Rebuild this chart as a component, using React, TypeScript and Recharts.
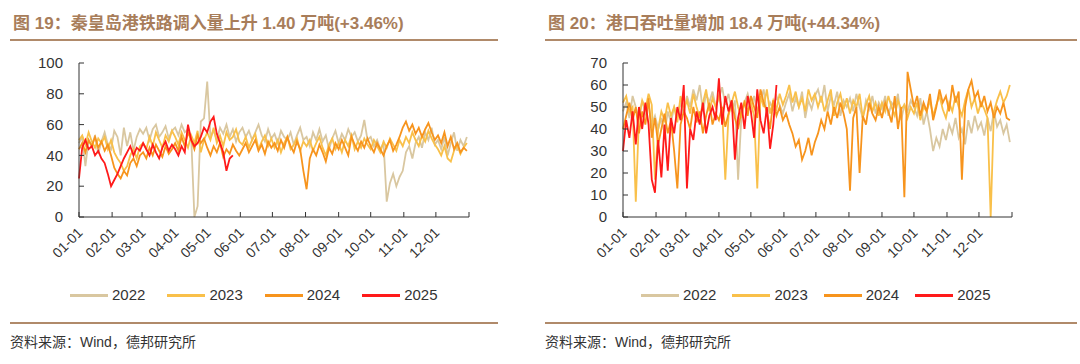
import React from "react";
import { LineChart, Line, XAxis, YAxis } from "recharts";

// ---------- data ----------
const MONTH_TICKS = [0, 31, 59, 90, 120, 151, 181, 212, 243, 273, 304, 334, 365];
const MONTH_LABELS = ["01-01", "02-01", "03-01", "04-01", "05-01", "06-01", "07-01", "08-01", "09-01", "10-01", "11-01", "12-01", ""];
const STEP_DAYS = 3;
const YEARS = ["2022", "2023", "2024", "2025"];
const COLORS = ["#d9c7a0", "#f9c04a", "#f7941d", "#ff1a1a"];

// 秦皇岛港铁路调入量 (values every 3 days)
const QHD_2022 = [
  48, 52, 33, 50, 46, 53, 41, 49, 55, 47, 44,
  56, 52, 40, 58, 46, 55, 43, 52, 57,
  54, 58, 50, 57, 60, 52, 55, 59, 51, 56,
  58, 53, 60, 55, 57, 52, 0, 7, 62, 64,
  88, 52, 56, 50, 58, 54, 60, 52, 57, 49, 55,
  58, 52, 56, 50, 55, 60, 53, 49, 57, 51,
  54, 48, 56, 52, 50, 55, 47, 53, 58, 50,
  52, 46, 55, 50, 57, 49, 53, 44, 51, 56,
  48, 54, 50, 57, 52, 55, 49, 53, 63, 50,
  52, 46, 50, 44, 48, 10, 22, 28, 20, 26, 30,
  42, 46, 38, 48, 52, 45, 55, 50, 58, 47,
  50, 44, 52, 40, 48, 55, 43, 50, 46, 52,
];
const QHD_2023 = [
  50, 53, 47, 55, 49, 45, 51, 48, 52, 44, 50,
  42, 38, 35, 30, 33, 40, 44, 38, 46,
  48, 44, 52, 46, 55, 50, 45, 53, 49, 56,
  52, 47, 55, 50, 45, 53, 48, 56, 42, 50,
  55, 50, 58, 48, 53, 46, 55, 50, 52, 57, 49,
  47, 52, 45, 50, 54, 44, 49, 53, 46, 51,
  45, 50, 42, 48, 52, 44, 47, 51, 43, 49,
  46, 50, 43, 48, 52, 45, 40, 47, 51, 44,
  48, 42, 50, 46, 53, 44, 49, 45, 51, 47,
  44, 50, 46, 42, 49, 45, 51, 47, 43, 50, 46,
  52, 48, 55, 50, 46, 53, 49, 56, 51, 47,
  44, 40, 46, 38, 36, 43, 47, 41, 45, 48,
];
const QHD_2024 = [
  44, 48, 42, 50, 46, 52, 45, 49, 43, 47, 40,
  32, 28, 25, 30, 27, 35, 38, 33, 40,
  42, 38, 45, 40, 47, 43, 39, 46, 41, 44,
  48, 43, 52, 46, 55, 50, 44, 53, 48, 51,
  45, 40, 46, 42, 48, 39, 44, 41, 47, 43, 40,
  44, 48, 42, 46, 50, 43, 47, 41, 49, 45,
  48, 43, 50, 45, 52, 46, 42, 49, 44, 30,
  18, 38, 44, 40, 47, 42, 36, 45, 41, 48,
  44, 50, 45, 40, 52, 47, 43, 49, 45, 51,
  46, 42, 48, 44, 40, 46, 50, 43, 47, 52, 58,
  62, 56, 60, 54, 58, 52, 57, 61, 55, 50,
  53, 48, 55, 46, 52, 44, 48, 42, 45, 43,
];
const QHD_2025 = [
  25, 45, 50, 44, 46, 40, 43, 38, 35, 28,
  20, 24, 28, 33, 38, 42, 46, 40, 45, 43,
  48, 44, 40, 47, 42, 38, 45, 49, 43, 47,
  44, 40, 46, 42, 60, 50, 46, 48, 52, 58,
  55, 62, 65, 54, 48, 42, 30, 38, 40,
];

// 港口吞吐量 (values every 3 days)
const PORT_2022 = [
  48, 52, 45, 55, 50, 44, 53, 47, 51, 42, 46,
  40, 45, 38, 48, 43, 50, 46, 52, 47,
  55, 50, 58, 53, 60, 48, 56, 52, 57, 50,
  54, 59, 51, 56, 48, 53, 17, 45, 52, 56,
  50, 55, 48, 53, 58, 46, 52, 49, 55, 51, 47,
  52, 56, 48, 54, 50, 57, 45, 53, 49, 55,
  58, 52, 60, 48, 55, 51, 57, 46, 53, 50,
  54, 48, 56, 50, 45, 53, 49, 55, 47, 52,
  49, 55, 46, 52, 50, 56, 44, 51, 48, 53,
  50, 46, 54, 42, 48, 40, 30, 36, 32, 40, 35,
  42, 38, 45, 36, 40, 33, 44, 38, 46, 40,
  43, 37, 45, 39, 48, 41, 44, 38, 42, 34,
];
const PORT_2023 = [
  52, 55, 48, 50, 7, 45, 53, 49, 56, 51, 17,
  40, 48, 44, 52, 46, 50, 43, 55, 49,
  53, 47, 56, 50, 45, 52, 58, 48, 54, 50,
  55, 49, 17, 46, 52, 57, 50, 45, 53, 48,
  52, 46, 13, 55, 50, 58, 47, 53, 49, 56, 51,
  55, 60, 52, 57, 50, 54, 48, 58, 53, 56,
  50, 55, 48, 53, 58, 46, 52, 56, 49, 54,
  47, 53, 50, 56, 45, 51, 55, 48, 52, 46,
  52, 48, 55, 50, 46, 53, 49, 51, 45, 50,
  47, 52, 44, 50, 48, 53, 46, 51, 55, 49, 45,
  52, 48, 55, 50, 46, 53, 58, 50, 54, 47,
  52, 49, 45, 0, 48, 53, 57, 52, 55, 60,
];
const PORT_2024 = [
  40, 46, 52, 44, 50, 38, 48, 42, 54, 36, 45,
  33, 40, 47, 38, 44, 30, 13, 42, 48,
  45, 40, 50, 43, 48, 38, 46, 52, 42, 47,
  44, 50, 41, 47, 53, 45, 40, 48, 52, 46,
  55, 50, 45, 58, 52, 48, 40, 53, 46, 50, 44,
  47, 42, 38, 32, 35, 26, 30, 36, 28, 34,
  38, 44, 40, 48, 42, 50, 45, 52, 47, 40,
  12, 45, 50, 20, 46, 42, 52, 47, 44, 50,
  45, 52, 48, 43, 55, 40, 50, 9, 66, 58,
  50, 55, 46, 52, 48, 56, 44, 50, 58, 52, 55,
  48, 60, 52, 57, 17, 50, 58, 62, 54, 57,
  50, 55, 48, 52, 45, 50, 47, 52, 45, 44,
];
const PORT_2025 = [
  30, 44, 36, 48, 33, 50, 40, 52, 42, 17,
  11, 35, 18, 42, 21, 45, 38, 50, 44, 60,
  13, 40, 35, 48, 42, 52, 38, 46, 50, 44,
  63, 42, 55, 48, 53, 26, 45, 52, 40, 55,
  48, 36, 58, 44, 38, 50, 31, 42, 60,
];

const QHD_TICKS = [0, 20, 40, 60, 80, 100];
const PORT_TICKS = [0, 10, 20, 30, 40, 50, 60, 70];

// ---------- helpers ----------
function buildRows(series: number[][]) {
  const n = Math.max(...series.map((s) => s.length));
  const rows: any[] = [];
  for (let i = 0; i < n; i++) {
    const row: any = { day: i * STEP_DAYS };
    YEARS.forEach((y, k) => {
      if (i < series[k].length) row["y" + y] = series[k][i];
    });
    rows.push(row);
  }
  return rows;
}

const QHD_ROWS = buildRows([QHD_2022, QHD_2023, QHD_2024, QHD_2025]);
const PORT_ROWS = buildRows([PORT_2022, PORT_2023, PORT_2024, PORT_2025]);

const FONT = "'Liberation Sans', Arial, 'Noto Sans CJK SC', sans-serif";
const AXIS = "#333333";
const TITLE_COLOR = "#a87d5a";
const RULE_COLOR = "#b08a6a";

const XTick = (props: any) => {
  const { x, y, payload } = props;
  const idx = MONTH_TICKS.indexOf(payload.value);
  const label = idx >= 0 ? MONTH_LABELS[idx] : "";
  const ax = x + 1;
  const ay = y + 13;
  return (
    <g>
      <line x1={x} x2={x} y1={y} y2={y - 5} stroke={AXIS} strokeWidth={1} />
      <text
        x={ax}
        y={ay}
        transform={`rotate(-45 ${ax} ${ay})`}
        textAnchor="end"
        dy="0.35em"
        fontSize={14}
        fontFamily={FONT}
        fill="#333"
      >
        {label}
      </text>
    </g>
  );
};

const YTick = (props: any) => {
  const { x, y, payload } = props;
  return (
    <g>
      <line x1={x} x2={x + 5} y1={y} y2={y} stroke={AXIS} strokeWidth={1} />
      <text x={x - 16} y={y} dy="0.35em" textAnchor="end" fontSize={15} fontFamily={FONT} fill="#333">
        {payload.value}
      </text>
    </g>
  );
};

type PanelProps = {
  ruleWidth: number;
  title: string;
  rows: any[];
  yMax: number;
  yTicks: number[];
  yAxisWidth: number;
  marginRight: number;
  legendLeft: number;
  legendGap: number;
};

const Panel = (p: PanelProps) => (
  <div style={{ position: "absolute", left: 0, top: 0, width: 540, height: 364 }}>
    <div
      style={{
        position: "absolute",
        left: 3,
        top: 13,
        fontSize: 17,
        fontWeight: "bold",
        color: TITLE_COLOR,
        fontFamily: FONT,
        whiteSpace: "nowrap",
        lineHeight: "22px",
      }}
    >
      {p.title}
    </div>
    <div style={{ position: "absolute", left: 0, top: 39, width: p.ruleWidth, height: 2, background: RULE_COLOR }} />
    <div style={{ position: "absolute", left: 0, top: 50 }}>
      <LineChart
        width={540}
        height={210}
        data={p.rows}
        margin={{ top: 13, right: p.marginRight, bottom: 3, left: 0 }}
      >
        <XAxis
          type="number"
          dataKey="day"
          domain={[0, 365]}
          ticks={MONTH_TICKS}
          interval={0}
          tickLine={false}
          tickSize={0}
          tickMargin={0}
          height={40}
          axisLine={{ stroke: AXIS, strokeWidth: 1 }}
          tick={<XTick />}
        />
        <YAxis
          type="number"
          domain={[0, p.yMax]}
          ticks={p.yTicks}
          interval={0}
          tickLine={false}
          tickSize={0}
          tickMargin={0}
          width={p.yAxisWidth}
          axisLine={{ stroke: AXIS, strokeWidth: 1 }}
          tick={<YTick />}
        />
        {YEARS.map((y, k) => (
          <Line
            key={y}
            type="linear"
            dataKey={"y" + y}
            stroke={COLORS[k]}
            strokeWidth={1.8}
            dot={false}
            activeDot={false}
            isAnimationActive={false}
            connectNulls={false}
          />
        ))}
      </LineChart>
    </div>
    <div
      style={{
        position: "absolute",
        left: p.legendLeft,
        top: 284,
        display: "flex",
        alignItems: "center",
        fontFamily: FONT,
        fontSize: 15,
        color: "#333",
        lineHeight: "22px",
      }}
    >
      {YEARS.map((y, k) => (
        <div key={y} style={{ display: "flex", alignItems: "center", marginRight: p.legendGap }}>
          <span style={{ display: "inline-block", width: 38, height: 3, background: COLORS[k], marginRight: 4 }} />
          <span>{y}</span>
        </div>
      ))}
    </div>
    <div style={{ position: "absolute", left: 0, top: 322, width: p.ruleWidth, height: 2, background: RULE_COLOR }} />
    <div
      style={{
        position: "absolute",
        left: 0,
        top: 333,
        fontSize: 14,
        fontFamily: FONT,
        color: "#333",
        whiteSpace: "nowrap",
        lineHeight: "18px",
      }}
    >
      资料来源：Wind，德邦研究所
    </div>
  </div>
);

export default function App() {
  return (
    <div style={{ position: "absolute", left: 0, top: 0, width: 1080, height: 364, background: "#fff", overflow: "hidden" }}>
      <div style={{ position: "absolute", left: 10, top: 0 }}>
        <Panel
          ruleWidth={488}
          title="图 19：秦皇岛港铁路调入量上升 1.40 万吨(+3.46%)"
          rows={QHD_ROWS}
          yMax={100}
          yTicks={QHD_TICKS}
          yAxisWidth={69}
          marginRight={81}
          legendLeft={60}
          legendGap={22}
        />
      </div>
      <div style={{ position: "absolute", left: 545, top: 0 }}>
        <Panel
          ruleWidth={532}
          title="图 20：港口吞吐量增加 18.4 万吨(+44.34%)"
          rows={PORT_ROWS}
          yMax={70}
          yTicks={PORT_TICKS}
          yAxisWidth={78}
          marginRight={73}
          legendLeft={96}
          legendGap={16}
        />
      </div>
    </div>
  );
}
